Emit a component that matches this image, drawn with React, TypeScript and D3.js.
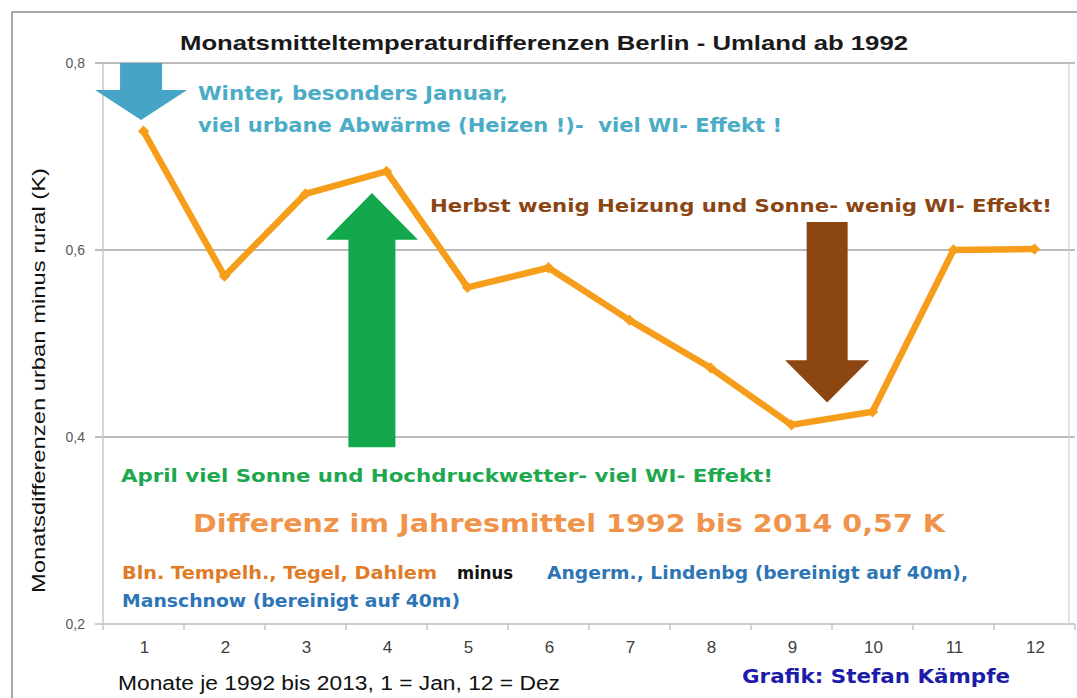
import React from "react";
import { scaleLinear, line } from "d3";

// monthly mean difference urban minus rural (K), Jan..Dec
const months = [1, 2, 3, 4, 5, 6, 7, 8, 9, 10, 11, 12];
const diffs = [0.727, 0.572, 0.66, 0.684, 0.56, 0.581, 0.525, 0.474, 0.413, 0.427, 0.6, 0.601];
const yTicks = [0.2, 0.4, 0.6, 0.8];
const yTickLabels = ["0,2", "0,4", "0,6", "0,8"];

// arrows: centre month, start value, head-base value, tip value, half widths (px)
const arrowBlue = { m: 0.97, from: 0.8, head: 0.771, tip: 0.739, shaft: 21, wing: 46 };
const arrowGreen = { m: 3.82, from: 0.389, head: 0.611, tip: 0.661, shaft: 23.5, wing: 46 };
const arrowBrown = { m: 9.44, from: 0.63, head: 0.482, tip: 0.437, shaft: 20.5, wing: 42 };

const W = 1077;
const H = 698;
const left = 103;
const right = 1075;
const top = 63;
const bottom = 624;

const font = "'Liberation Sans', Arial, sans-serif";
const wide = "'DejaVu Sans', Verdana, sans-serif";

export default function App() {
  const x = scaleLinear().domain([0.5, 12.5]).range([left, right]);
  const y = scaleLinear().domain([0.2, 0.8]).range([bottom, top]);

  const path = line<number>()
    .x((d, i) => x(months[i]))
    .y(d => y(d));

  const arrow = (a: typeof arrowBlue, color: string) => {
    const cx = x(a.m);
    const pts = [
      [cx - a.shaft, y(a.from)],
      [cx + a.shaft, y(a.from)],
      [cx + a.shaft, y(a.head)],
      [cx + a.wing, y(a.head)],
      [cx, y(a.tip)],
      [cx - a.wing, y(a.head)],
      [cx - a.shaft, y(a.head)],
    ];
    return <polygon points={pts.map(p => p.join(",")).join(" ")} fill={color} />;
  };

  const halfTicks = months.map(m => m - 0.5).concat([12.5]);
  const fit = "spacingAndGlyphs";

  return (
    <svg width={W} height={H} style={{ position: "absolute", left: 0, top: 0, background: "#fff" }}
         fontFamily={font}>
      {/* outer frame */}
      <rect x={12} y={12} width={W} height={H} fill="#fff" stroke="#8c8c8c" strokeWidth={1.5} />

      {/* title */}
      <text x={180} y={50} fontSize={21} fontWeight="bold" fill="#1a1a1a" textLength={728} lengthAdjust={fit}>
        Monatsmitteltemperaturdifferenzen Berlin - Umland ab 1992
      </text>

      {/* grid + frame of plot area */}
      {yTicks.map((t, i) => (
        <g key={t}>
          <line x1={left - 8} x2={right} y1={y(t)} y2={y(t)} stroke={i === 0 ? "#bdbdbd" : "#a6a6a6"} strokeWidth={1.3} />
          <text x={85} y={y(t) + 5} textAnchor="end" fontSize={14} fill="#595959">{yTickLabels[i]}</text>
        </g>
      ))}
      <line x1={left} x2={left} y1={top} y2={bottom} stroke="#c8c8c8" strokeWidth={1.5} />
      <line x1={right - 6} x2={right - 6} y1={top} y2={bottom} stroke="#d0d0d0" strokeWidth={1.2} />
      {halfTicks.map(t => (
        <line key={t} x1={x(t)} x2={x(t)} y1={bottom} y2={bottom + 6} stroke="#bdbdbd" strokeWidth={1.3} />
      ))}
      {months.map(m => (
        <text key={m} x={x(m) + 1} y={653} textAnchor="middle" fontSize={17} fill="#404040">{m}</text>
      ))}

      {/* y axis title */}
      <text transform={`translate(45,593) rotate(-90)`} fontSize={19} fill="#111" textLength={425} lengthAdjust={fit}>
        Monatsdifferenzen urban minus rural (K)
      </text>

      {/* arrows */}
      {arrow(arrowBlue, "#46a5c6")}
      {arrow(arrowGreen, "#12a84b")}
      {arrow(arrowBrown, "#8b4612")}

      {/* series */}
      <path d={path(diffs) || ""} fill="none" stroke="#f69e1b" strokeWidth={6.5} strokeLinejoin="round" />
      {diffs.map((d, i) => (
        <rect key={i} x={x(months[i]) - 4} y={y(d) - 4} width={8} height={8} fill="#f69e1b"
              transform={`rotate(45,${x(months[i])},${y(d)})`} />
      ))}

      {/* annotations */}
      <g fontWeight="bold" fontFamily={wide}>
        <text x={198} y={100} fontSize={20} fill="#4bacc6" textLength={310} lengthAdjust={fit}>
          Winter, besonders Januar,
        </text>
        <text x={198} y={132} fontSize={20} fill="#4bacc6" style={{ whiteSpace: "pre" }} textLength={584} lengthAdjust={fit}>
          {"viel urbane Abwärme (Heizen !)-  viel WI- Effekt !"}
        </text>
        <text x={430} y={212} fontSize={18} fill="#8b4513" textLength={622} lengthAdjust={fit}>
          Herbst wenig Heizung und Sonne- wenig WI- Effekt!
        </text>
        <text x={121} y={482} fontSize={17} fill="#1ea84e" textLength={652} lengthAdjust={fit}>
          April viel Sonne und Hochdruckwetter- viel WI- Effekt!
        </text>
        <text x={193} y={532} fontSize={24} fill="#f0944c" textLength={752} lengthAdjust={fit}>
          Differenz im Jahresmittel 1992 bis 2014 0,57 K
        </text>
        <text x={122} y={579} fontSize={17} fill="#e07b28" textLength={315} lengthAdjust={fit}>
          Bln. Tempelh., Tegel, Dahlem
        </text>
        <text x={457} y={579} fontSize={17} fill="#111" textLength={56} lengthAdjust={fit}>minus</text>
        <text x={547} y={579} fontSize={17} fill="#2e75b6" textLength={421} lengthAdjust={fit}>
          Angerm., Lindenbg (bereinigt auf 40m),
        </text>
        <text x={122} y={607} fontSize={17} fill="#2e75b6" textLength={338} lengthAdjust={fit}>
          Manschnow (bereinigt auf 40m)
        </text>
        <text x={742} y={683} fontSize={20} fill="#1c1ca8" textLength={268} lengthAdjust={fit}>
          Grafik: Stefan Kämpfe
        </text>
      </g>
      <text x={118} y={690} fontSize={19.5} fill="#111" textLength={442} lengthAdjust={fit}>
        Monate je 1992 bis 2013, 1 = Jan, 12 = Dez
      </text>
    </svg>
  );
}
